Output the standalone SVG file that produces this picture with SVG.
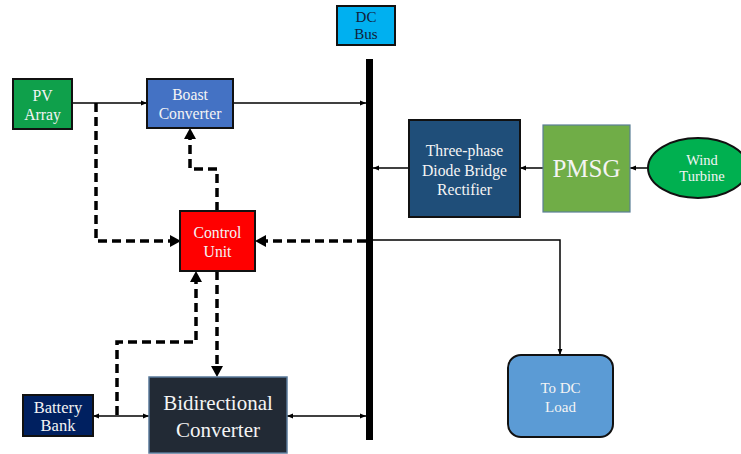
<svg xmlns="http://www.w3.org/2000/svg" width="741" height="454" viewBox="0 0 741 454">
<style>
text{fill:#f4f4f4;text-anchor:middle;font-size:15.7px}
.s{fill:none;stroke:#000;stroke-width:1.5}
.d{fill:none;stroke:#000;stroke-width:3.5;stroke-dasharray:9 5}
.b{stroke:#111;stroke-width:2}
</style>
<defs>
<marker id="a" viewBox="0 0 10 10" refX="10" refY="5" markerWidth="6" markerHeight="6" orient="auto-start-reverse" markerUnits="userSpaceOnUse"><path d="M0,1L10,5L0,9z" fill="#000"/></marker>
</defs>
<rect width="741" height="454" fill="#fff"/>
<g id="connectors">
<rect x="366" y="59" width="7" height="381" fill="#000"/>
<path class="s" d="M72,103H147" marker-end="url(#a)"/>
<path class="s" d="M233,103H366" marker-end="url(#a)"/>
<path class="s" d="M648,168H630" marker-end="url(#a)"/>
<path class="s" d="M543,168H520" marker-end="url(#a)"/>
<path class="s" d="M409,168H373" marker-end="url(#a)"/>
<path class="s" d="M373,240H560V355" marker-end="url(#a)"/>
<path class="s" d="M93,416H149" marker-start="url(#a)" marker-end="url(#a)"/>
<path class="s" d="M287,416H366" marker-start="url(#a)" marker-end="url(#a)"/>
<path class="d" d="M96,103V241H170"/>
<path d="M170,235L181,241L170,247z"/>
<path class="d" d="M217,211V169H190V139"/>
<path d="M184,139L190,128L196,139z"/>
<path class="d" d="M366,241H266"/>
<path d="M266,235L255,241L266,247z"/>
<path class="d" d="M217,271V366"/>
<path d="M211,366L217,377L223,366z"/>
<path class="d" d="M117,415V342H196V282"/>
<path d="M190,282L196,271L202,282z"/>
</g>
<g font-family="'Liberation Serif', 'Times New Roman', serif">
<g id="dcbus"><rect x="337" y="6" width="58" height="39" fill="#00B0F0" class="b"/><text x="366" y="22" style="fill:#12203a;font-size:15px">DC</text><text x="366" y="39" style="fill:#12203a;font-size:15px">Bus</text></g>
<g id="pv"><rect x="13" y="79" width="59" height="50" fill="#0FA04B" class="b"/><text x="42.5" y="101">PV</text><text x="42.5" y="120">Array</text></g>
<g id="boast"><rect x="147" y="79" width="86" height="49" fill="#4472C4" class="b"/><text x="190" y="99.5">Boast</text><text x="190" y="118.5">Converter</text></g>
<g id="control"><rect x="180" y="211" width="75" height="60" fill="#FF0000" class="b"/><text x="217.5" y="237.5">Control</text><text x="217.5" y="256.5">Unit</text></g>
<g id="rectifier"><rect x="409" y="120" width="111" height="97" fill="#1F4E79" class="b"/><text x="464.5" y="155.5">Three-phase</text><text x="464.5" y="175.5">Diode Bridge</text><text x="464.5" y="194.5">Rectifier</text></g>
<g id="pmsg"><rect x="543" y="125" width="87" height="87" fill="#70AD47" stroke="#5b7f96" stroke-width="1.2"/><text x="586.5" y="177" style="font-size:25px">PMSG</text></g>
<g id="wind"><ellipse cx="698" cy="168" rx="50" ry="30" fill="#00B050" class="b"/><text x="702" y="164.5" style="font-size:14.5px">Wind</text><text x="702" y="181.2" style="font-size:14.5px">Turbine</text></g>
<g id="load"><rect x="508" y="355" width="105" height="82" rx="13" fill="#5B9BD5" class="b"/><text x="560.5" y="392.5" style="font-size:15px">To DC</text><text x="560.5" y="411.5" style="font-size:15px">Load</text></g>
<g id="battery"><rect x="23" y="395" width="70" height="41" fill="#002060" class="b"/><text x="58" y="413" style="font-size:16.5px">Battery</text><text x="58" y="431" style="font-size:16.5px">Bank</text></g>
<g id="bidir"><rect x="149" y="377" width="138" height="76" fill="#222A35" stroke="#5A7A9A" stroke-width="1.5"/><text x="218" y="410" style="font-size:21px">Bidirectional</text><text x="218" y="437" style="font-size:21px">Converter</text></g>
</g>
</svg>
